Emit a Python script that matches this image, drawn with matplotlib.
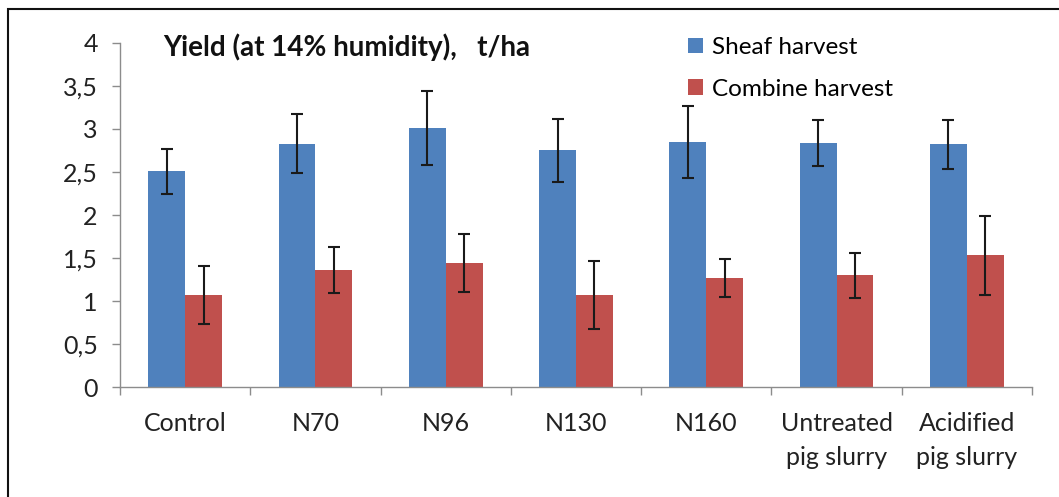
import matplotlib
matplotlib.use("Agg")
import matplotlib.pyplot as plt
import numpy as np
from matplotlib.patches import Rectangle
from matplotlib.ticker import FuncFormatter

categories = ["Control", "N70", "N96", "N130", "N160", "Untreated\npig slurry", "Acidified\npig slurry"]
sheaf = [2.51, 2.83, 3.01, 2.75, 2.85, 2.84, 2.82]
sheaf_err = [0.26, 0.34, 0.43, 0.37, 0.42, 0.27, 0.28]
combine = [1.07, 1.36, 1.44, 1.07, 1.27, 1.30, 1.53]
combine_err = [0.34, 0.27, 0.34, 0.40, 0.22, 0.26, 0.46]
y_ticks = [0, 0.5, 1, 1.5, 2, 2.5, 3, 3.5, 4]

plt.rcParams['font.family'] = ['Lato', 'DejaVu Sans']

fig = plt.figure(figsize=(10.59, 4.97), dpi=100)
ax = fig.add_axes([0.1133, 0.2213, 0.8612, 0.6922])

x = np.arange(len(categories))
w = 0.283
blue = "#4F81BD"
red = "#C0504D"
ax.bar(x - w/2, sheaf, w, color=blue, label="Sheaf harvest", zorder=2)
ax.bar(x + w/2, combine, w, color=red, label="Combine harvest", zorder=2)
ax.errorbar(x - w/2, sheaf, yerr=sheaf_err, fmt='none', ecolor='#1a1a1a',
            elinewidth=1.5, capsize=4.5, capthick=1.5, zorder=3)
ax.errorbar(x + w/2, combine, yerr=combine_err, fmt='none', ecolor='#1a1a1a',
            elinewidth=1.5, capsize=4.5, capthick=1.5, zorder=3)

ax.set_xlim(-0.5, len(categories) - 0.5)
ax.set_ylim(0, 4)
ax.set_yticks(y_ticks)
ax.yaxis.set_major_formatter(FuncFormatter(lambda v, p: ("%g" % v).replace('.', ',')))
ax.set_xticks(x)
ax.set_xticklabels(categories, fontsize=18, linespacing=1.6)
ax.set_xticks(np.arange(len(categories) + 1) - 0.5, minor=True)
ax.tick_params(axis='x', which='major', length=0, pad=18, labelsize=18, colors='#222222')
ax.tick_params(axis='x', which='minor', length=6, color='#8c8c8c', width=1)
ax.tick_params(axis='y', length=6, width=1, labelsize=18, pad=10, labelcolor='#222222', color='#8c8c8c')
for s in ['top', 'right']:
    ax.spines[s].set_visible(False)
for s in ['left', 'bottom']:
    ax.spines[s].set_color('#8c8c8c')
    ax.spines[s].set_linewidth(1)

fig.text(163/1059, 1 - 47/497, "Yield (at 14% humidity),   t/ha", fontsize=20,
         fontweight='bold', va='center', ha='left', color='#111111')

leg = ax.legend(loc='upper left', bbox_to_anchor=(688/1059, 1 - 37/497),
                bbox_transform=fig.transFigure, frameon=False, fontsize=17.5,
                handlelength=0.6, handleheight=0.6, handletextpad=0.4,
                labelspacing=0.85, borderaxespad=0, borderpad=0)

fig.patches.append(Rectangle((8/1059, -0.1), 1.2, (1 - 9/497) + 0.1,
                             transform=fig.transFigure, fill=False,
                             edgecolor='#111111', linewidth=1.5))

fig.savefig("out.png", dpi=100)
